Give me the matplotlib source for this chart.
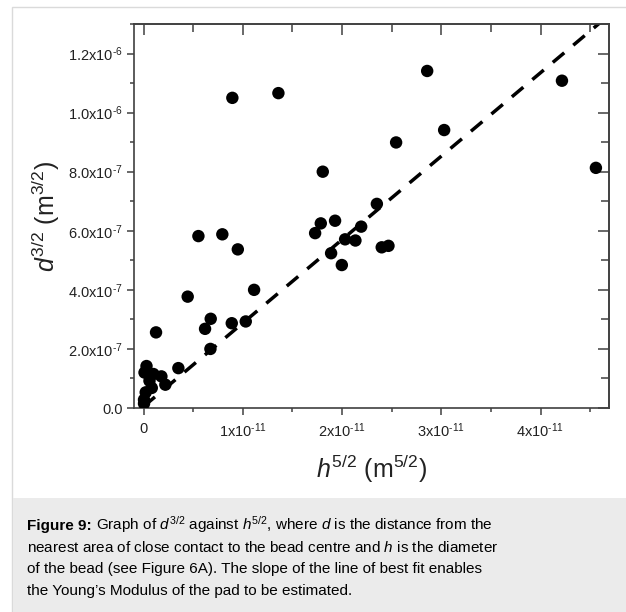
import matplotlib
matplotlib.use("Agg")
import matplotlib.pyplot as plt
from matplotlib.patches import Rectangle
from matplotlib.ticker import FixedLocator
import numpy as np

plt.rcParams['font.family'] = ['Liberation Sans', 'DejaVu Sans']
plt.rcParams['mathtext.fontset'] = 'custom'
plt.rcParams['mathtext.rm'] = 'Liberation Sans'
plt.rcParams['mathtext.it'] = 'Liberation Sans:italic'
plt.rcParams['mathtext.bf'] = 'Liberation Sans:bold'

# data (x in units of 1e-11 m^5/2, y in units of 1e-6 m^3/2)
h52 = [0.895, 1.359, 0.553, 0.794, 0.950, 0.445, 1.114, 0.126, 0.620, 0.677,
       0.674, 0.889, 1.030, 0.351,
       0.030, 0.010, 0.100, 0.180, 0.220, 0.083, 0.022, 0.005, 0.005, 0.060,
       2.858, 4.216, 3.029, 2.545, 4.558, 1.806, 2.351, 1.786, 1.729, 1.930,
       2.193, 2.031, 2.135, 2.400, 2.468, 1.890, 1.998]
d32 = [1.050, 1.066, 0.582, 0.588, 0.537, 0.377, 0.400, 0.256, 0.268, 0.302,
       0.200, 0.287, 0.293, 0.135,
       0.142, 0.120, 0.115, 0.107, 0.079, 0.068, 0.053, 0.028, 0.015, 0.092,
       1.141, 1.108, 0.941, 0.899, 0.813, 0.800, 0.691, 0.625, 0.592, 0.634,
       0.614, 0.571, 0.567, 0.544, 0.549, 0.524, 0.484]
h52 = np.array(h52) * 1e-11
d32 = np.array(d32) * 1e-6

# line of best fit
fit_slope = 2.825e4
fit_intercept = 0.005e-6

HY = '\u2010'  # short hyphen instead of the long mathtext minus
x_ticks = [0, 1e-11, 2e-11, 3e-11, 4e-11]
x_ticklabels = ['0'] + [r'%dx10$^{\mathregular{%s11}}$' % (k, HY) for k in (1, 2, 3, 4)]
y_ticks = [0, 2e-7, 4e-7, 6e-7, 8e-7, 1.0e-6, 1.2e-6]
y_ticklabels = ['0.0',
                r'2.0x10$^{\mathregular{%s7}}$' % HY, r'4.0x10$^{\mathregular{%s7}}$' % HY,
                r'6.0x10$^{\mathregular{%s7}}$' % HY, r'8.0x10$^{\mathregular{%s7}}$' % HY,
                r'1.0x10$^{\mathregular{%s6}}$' % HY, r'1.2x10$^{\mathregular{%s6}}$' % HY]

caption_lines = [
    r'Graph of $\mathit{d}^{\mathregular{3/2}}$ against $\mathit{h}^{\mathregular{5/2}}$, where $\mathit{d}$ is the distance from the',
    r'nearest area of close contact to the bead centre and $\mathit{h}$ is the diameter',
    'of the bead (see Figure 6A). The slope of the line of best fit enables',
    'the Young\u2019s Modulus of the pad to be estimated.',
]

W, H = 626, 612
fig = plt.figure(figsize=(W / 100, H / 100), dpi=100)

# outer frame and caption box
fig.patches.append(Rectangle((12 / W, 0), 1, 1 - 7 / H, transform=fig.transFigure,
                             facecolor='white', edgecolor='#dadada', lw=1, zorder=-10))
fig.patches.append(Rectangle((12.5 / W, 0), 1, (H - 498) / H, transform=fig.transFigure,
                             facecolor='#ebebeb', edgecolor='none', zorder=-9))

ax = fig.add_axes([134 / W, 1 - 408 / H, (609 - 134) / W, (408 - 24) / H])
ax.scatter(h52, d32, s=80, color='black', edgecolors='none', zorder=3)

xs = np.array([0, 4.7e-11])
ax.plot(xs, fit_slope * xs + fit_intercept, color='black', lw=2.5,
        dashes=(4.3, 3.4), zorder=2)

ax.set_xlim(-0.096e-11, 4.69e-11)
ax.set_ylim(0, 1.3e-6)

spine_col = '#404040'
for s in ax.spines.values():
    s.set_color(spine_col)
    s.set_linewidth(1.2)

ax.set_xticks(x_ticks, x_ticklabels)
ax.set_yticks(y_ticks, y_ticklabels)
x_minor = [0.5e-11, 1.5e-11, 2.5e-11, 3.5e-11, 4.5e-11]
y_minor = [1e-7, 3e-7, 5e-7, 7e-7, 9e-7, 1.1e-6, 1.3e-6]
ax.xaxis.set_minor_locator(FixedLocator(x_minor))
ax.yaxis.set_minor_locator(FixedLocator(y_minor))
ax.tick_params(which='major', direction='out', length=5, width=1.1, color=spine_col,
               labelsize=10.5, labelcolor='#222222')
ax.tick_params(which='minor', direction='out', length=3, width=1.1, color=spine_col)
ax.tick_params(axis='x', which='major', pad=5)
ax.tick_params(axis='y', which='major', pad=3)

# inward ticks on top and right
secx = ax.secondary_xaxis('top')
secx.set_xticks(x_ticks)
secx.xaxis.set_minor_locator(FixedLocator(x_minor))
secx.tick_params(which='major', direction='in', length=8, width=1.1, color=spine_col,
                 labeltop=False, labelbottom=False)
secx.tick_params(which='minor', direction='in', length=6, width=1.1, color=spine_col)
secy = ax.secondary_yaxis('right')
secy.set_yticks(y_ticks)
secy.yaxis.set_minor_locator(FixedLocator(y_minor))
secy.tick_params(which='major', direction='in', length=8, width=1.1, color=spine_col,
                 labelright=False, labelleft=False)
secy.tick_params(which='minor', direction='in', length=5.5, width=1.1, color=spine_col)
for sec in (secx, secy):
    for s in sec.spines.values():
        s.set_color(spine_col)
        s.set_linewidth(1.2)

ax.set_xlabel(r'$\mathit{h}^{\mathregular{5/2}}$ (m$^{\mathregular{5/2}}$)', fontsize=18,
              color='#222222')
ax.set_ylabel(r'$\mathit{d}^{\mathregular{3/2}}$ (m$^{\mathregular{3/2}}$)', fontsize=18,
              color='#222222')
ax.xaxis.set_label_coords(0.5, -0.118)
ax.yaxis.set_label_coords(-0.152, 0.5)

# caption
cap_x = 27 / W
baselines = [530, 552, 573, 595]
bold = fig.text(cap_x, 1 - baselines[0] / H, 'Figure 9:', fontsize=11, fontweight='bold',
                va='baseline', color='black')
fig.canvas.draw()
bb = bold.get_window_extent()
rest_x = (bb.x1 + 4) / W
fig.text(rest_x, 1 - baselines[0] / H, caption_lines[0], fontsize=11, va='baseline',
         color='black')
for line, yb in zip(caption_lines[1:], baselines[1:]):
    fig.text(cap_x, 1 - yb / H, line, fontsize=11, va='baseline', color='black')

fig.savefig('out.png', dpi=100)
